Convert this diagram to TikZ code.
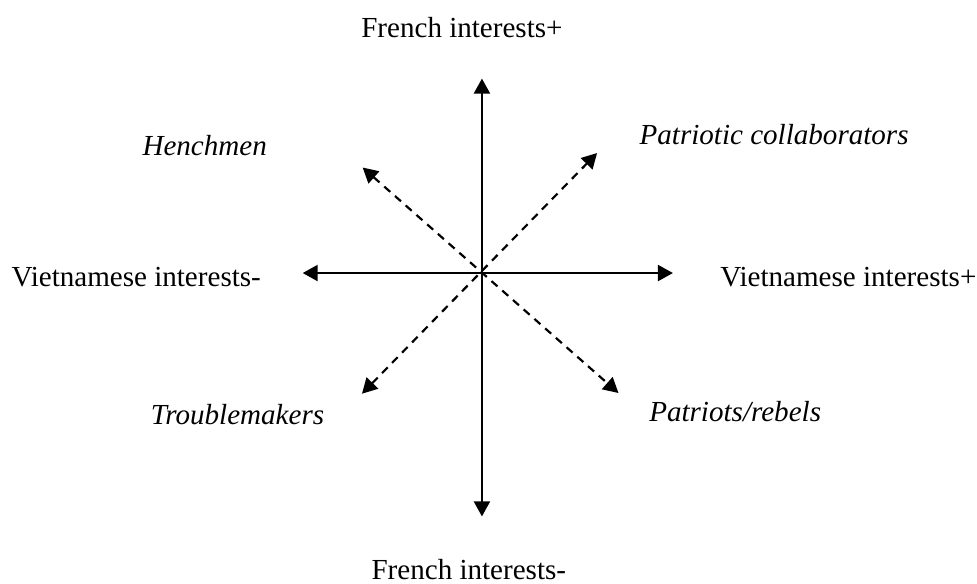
\documentclass[tikz,border=0pt]{standalone}
\usepackage{fontspec}
\setmainfont{Liberation Serif}
\usepackage{tikz}
\usetikzlibrary{arrows.meta, positioning}
\usepackage{xcolor}

\tikzset{
  axis/.style={line width=0.9pt, {Triangle[length=6.2pt,width=6.6pt]}-{Triangle[length=6.2pt,width=6.6pt]}},
  diag/.style={line width=0.9pt, dash pattern=on 3.3pt off 2.6pt,
               {Triangle[length=6.2pt,width=6.6pt]}-{Triangle[length=6.2pt,width=6.6pt]}},
  axislabel/.style={inner sep=0pt, font=\fontsize{12pt}{14pt}\selectfont},
  rolelabel/.style={inner sep=0pt, font=\fontsize{12pt}{14pt}\selectfont\itshape}
}

\begin{document}
\begin{tikzpicture}

\useasboundingbox (-6.99,-4.50) rectangle (7.18,3.96);

% end points of the axes
\coordinate (o) at (0,0);
\coordinate (fplus) at (0,2.82);
\coordinate (fminus) at (0,-3.53);
\coordinate (vminus) at (-2.60,0);
\coordinate (vplus) at (2.77,0);

% end points of the diagonals
\coordinate (hench) at (-1.73,1.53);
\coordinate (patcol) at (1.67,1.74);
\coordinate (trouble) at (-1.74,-1.75);
\coordinate (patreb) at (1.98,-1.74);

\draw[axis] (fminus) -- (fplus);
\draw[axis] (vminus) -- (vplus);
\draw[diag] (hench) -- (patreb);
\draw[diag] (trouble) -- (patcol);

% axis labels
\node[axislabel, anchor=base] (ftop) at (-0.29,3.41) {French interests+};
\node[axislabel, anchor=base] (fbot) at (-0.19,-4.45) {French interests-};
\node[axislabel, anchor=base west] (vleft) at (-6.83,-0.20) {Vietnamese interests-};
\node[axislabel, anchor=base west] (vright) at (3.45,-0.20) {Vietnamese interests+};

% the four roles
\node[rolelabel, anchor=base west] (henchmen) at (-4.93,1.71) {Henchmen};
\node[rolelabel, anchor=base west] (collab) at (2.28,1.87) {Patriotic collaborators};
\node[rolelabel, anchor=base west] (troublem) at (-4.81,-2.20) {Troublemakers};
\node[rolelabel, anchor=base west] (rebels) at (2.42,-2.16) {Patriots/rebels};

\end{tikzpicture}
\end{document}
